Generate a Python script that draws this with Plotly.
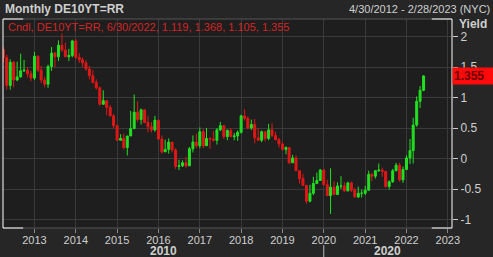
import plotly.graph_objects as go
import pandas as pd

# Monthly candles Apr 2012 .. Jun 2022
months = pd.date_range("2012-04-01", "2022-06-01", freq="MS")

opens = [
    1.79, 1.66, 1.20, 1.58, 1.29, 1.34, 1.44, 1.45, 1.39,
    1.32, 1.68, 1.45, 1.29, 1.22, 1.51, 1.73, 1.67, 1.86, 1.78, 1.67, 1.69,
    1.93, 1.66, 1.62, 1.57, 1.47, 1.36, 1.25, 1.16, 0.89, 0.95, 0.84, 0.70,
    0.54, 0.30, 0.33, 0.18, 0.37, 0.49, 0.76, 0.64, 0.80, 0.59, 0.52, 0.47,
    0.63, 0.32, 0.11, 0.15, 0.27, 0.14, -0.13, -0.12, -0.07, -0.12, 0.16, 0.27,
    0.21, 0.44, 0.21, 0.33, 0.32, 0.30, 0.47, 0.54, 0.36, 0.46, 0.36, 0.37,
    0.43, 0.70, 0.66, 0.50, 0.56, 0.34, 0.30, 0.44, 0.33, 0.47, 0.38, 0.31,
    0.24, 0.15, 0.18, -0.07, 0.01, -0.20, -0.33, -0.44, -0.70, -0.57, -0.41, -0.36,
    -0.19, -0.43, -0.61, -0.47, -0.59, -0.45, -0.45, -0.53, -0.40, -0.52, -0.63, -0.57,
    -0.57, -0.52, -0.26, -0.29, -0.20, -0.19, -0.21, -0.46, -0.38, -0.20, -0.11, -0.35,
    -0.18, 0.01, 0.13, 0.55, 0.94, 1.119,
]
highs = [
    1.84, 1.70, 1.63, 1.60, 1.59, 1.72, 1.62, 1.50, 1.44,
    1.75, 1.69, 1.52, 1.34, 1.54, 1.83, 1.75, 1.94, 2.05, 1.90, 1.80, 1.95,
    1.96, 1.73, 1.66, 1.61, 1.52, 1.45, 1.30, 1.18, 1.12, 0.96, 0.88, 0.73,
    0.55, 0.40, 0.41, 0.37, 0.78, 1.05, 0.94, 0.82, 0.80, 0.70, 0.60, 0.70,
    0.63, 0.38, 0.31, 0.33, 0.27, 0.17, -0.02, -0.03, 0.03, 0.19, 0.38, 0.41,
    0.51, 0.48, 0.50, 0.35, 0.45, 0.50, 0.60, 0.55, 0.48, 0.50, 0.42, 0.46,
    0.72, 0.81, 0.69, 0.64, 0.65, 0.50, 0.46, 0.44, 0.57, 0.58, 0.44, 0.34,
    0.27, 0.20, 0.19, 0.06, 0.05, -0.19, -0.25, -0.44, -0.43, -0.30, -0.23, -0.17,
    -0.17, -0.35, -0.16, -0.37, -0.39, -0.29, -0.39, -0.38, -0.38, -0.48, -0.46, -0.51,
    -0.45, -0.20, -0.24, -0.19, -0.08, -0.15, -0.21, -0.36, -0.17, -0.07, -0.07, -0.13,
    0.05, 0.32, 0.67, 1.02, 1.19, 1.368,
]
lows = [
    1.58, 1.13, 1.13, 1.17, 1.27, 1.33, 1.42, 1.33, 1.27,
    1.29, 1.42, 1.24, 1.17, 1.16, 1.44, 1.50, 1.60, 1.75, 1.71, 1.60, 1.66,
    1.64, 1.57, 1.50, 1.44, 1.30, 1.23, 1.13, 0.87, 0.89, 0.71, 0.69, 0.50,
    0.30, 0.30, 0.15, 0.05, 0.37, 0.49, 0.60, 0.56, 0.58, 0.43, 0.43, 0.44,
    0.32, 0.08, 0.11, 0.08, 0.10, -0.17, -0.19, -0.14, -0.15, -0.12, 0.10, 0.17,
    0.17, 0.17, 0.21, 0.16, 0.28, 0.23, 0.45, 0.32, 0.30, 0.35, 0.30, 0.29,
    0.41, 0.62, 0.48, 0.47, 0.25, 0.29, 0.27, 0.28, 0.30, 0.35, 0.30, 0.18,
    0.13, 0.07, -0.09, -0.07, -0.20, -0.41, -0.45, -0.74, -0.72, -0.60, -0.42, -0.36,
    -0.44, -0.61, -0.91, -0.60, -0.60, -0.50, -0.55, -0.54, -0.55, -0.64, -0.65, -0.64,
    -0.60, -0.53, -0.37, -0.33, -0.22, -0.30, -0.48, -0.51, -0.40, -0.21, -0.38, -0.40,
    -0.18, -0.09, -0.08, 0.52, 0.83, 1.105,
]
closes = [
    1.66, 1.20, 1.58, 1.29, 1.34, 1.44, 1.45, 1.39, 1.32,
    1.68, 1.45, 1.29, 1.22, 1.51, 1.73, 1.67, 1.86, 1.78, 1.67, 1.69, 1.93,
    1.66, 1.62, 1.57, 1.47, 1.36, 1.25, 1.16, 0.89, 0.95, 0.84, 0.70, 0.54,
    0.30, 0.33, 0.18, 0.37, 0.49, 0.76, 0.64, 0.80, 0.59, 0.52, 0.47, 0.63,
    0.32, 0.11, 0.15, 0.27, 0.14, -0.13, -0.12, -0.07, -0.12, 0.16, 0.27, 0.21,
    0.44, 0.21, 0.33, 0.32, 0.30, 0.47, 0.54, 0.36, 0.46, 0.36, 0.37, 0.43,
    0.70, 0.66, 0.50, 0.56, 0.34, 0.30, 0.44, 0.33, 0.47, 0.38, 0.31, 0.24,
    0.15, 0.18, -0.07, 0.01, -0.20, -0.33, -0.44, -0.70, -0.57, -0.41, -0.36, -0.19,
    -0.43, -0.61, -0.47, -0.59, -0.45, -0.45, -0.53, -0.40, -0.52, -0.63, -0.57, -0.57,
    -0.52, -0.26, -0.29, -0.20, -0.19, -0.21, -0.46, -0.38, -0.20, -0.11, -0.35, -0.18,
    0.01, 0.13, 0.55, 0.94, 1.12, 1.355,
]

year_ticks = [f"{y}-01-01" for y in range(2013, 2024)]
year_labels = [str(y) for y in range(2013, 2024)]
y_ticks = [-1, -0.5, 0, 0.5, 1, 1.5, 2]
y_labels = ["-1", "-0.5", "0", "0.5", "1", "1.5", "2"]
decades = [("2010", "2012-03-29", "2020-01-01"), ("2020", "2020-01-01", "2023-02-07")]

last_close = closes[-1]
legend_text = "Cndl, DE10YT=RR, 6/30/2022, 1.119, 1.368, 1.105, 1.355"

GREEN = "#22e022"
RED = "#e01818"
TXT = "#cfcfcf"
GRID = "#3a3a3a"
FONT = "Liberation Sans, Arial, sans-serif"

fig = go.Figure()
fig.add_trace(go.Candlestick(
    x=months, open=opens, high=highs, low=lows, close=closes,
    increasing=dict(line=dict(color=GREEN, width=1), fillcolor=GREEN),
    decreasing=dict(line=dict(color=RED, width=1), fillcolor=RED),
    whiskerwidth=0, showlegend=False, hoverinfo="skip",
))

annotations = [
    dict(text="<b>Monthly DE10YT=RR</b>", xref="paper", yref="paper", x=0, y=1,
         xanchor="left", yanchor="middle", yshift=10, showarrow=False,
         font=dict(family=FONT, size=12, color=TXT)),
    dict(text="4/30/2012 - 2/28/2023 (NYC)", xref="paper", yref="paper", x=1, y=1,
         xanchor="right", yanchor="middle", xshift=40, yshift=10, showarrow=False,
         font=dict(family=FONT, size=11, color=TXT)),
    dict(text=legend_text, xref="paper", yref="paper", x=0, y=1, xanchor="left",
         yanchor="middle", xshift=3, yshift=-8, showarrow=False,
         font=dict(family=FONT, size=11, color="#d42424")),
    dict(text="<b>Yield</b>", xref="paper", yref="paper", x=1, y=1, xanchor="left",
         yanchor="middle", xshift=5, yshift=-5, showarrow=False,
         font=dict(family=FONT, size=12, color=TXT)),
    dict(text="<b>%.3f</b>" % last_close, xref="paper", yref="y", x=1, y=last_close,
         xanchor="left", yanchor="middle", showarrow=False, bgcolor="#ff0a0a",
         borderpad=1, width=38, align="left",
         font=dict(family=FONT, size=12, color="#6a0000")),
]
for lab, a, b in decades:
    mid = pd.Timestamp(a) + (pd.Timestamp(b) - pd.Timestamp(a)) / 2
    annotations.append(dict(text=f"<b>{lab}</b>", xref="x", yref="paper", x=mid, y=0,
                            yanchor="middle", yshift=-23, showarrow=False,
                            font=dict(family=FONT, size=12, color=TXT)))

W = "#ffffff"
shapes = [
    dict(type="line", xref="paper", yref="paper", x0=0, x1=1, y0=1, y1=1, line=dict(color="#555555", width=1)),
    dict(type="line", xref="paper", yref="paper", x0=0, x1=1, y0=0, y1=0, line=dict(color="#555555", width=1)),
    dict(type="line", xref="paper", yref="paper", x0=0, x1=0, y0=0, y1=1, line=dict(color=W, width=1)),
    dict(type="line", xref="paper", yref="paper", x0=1, x1=1, y0=0, y1=1, line=dict(color=W, width=1)),
    dict(type="line", xref="paper", yref="paper", x0=0, x1=0.045, y0=1, y1=1, line=dict(color=W, width=1)),
    dict(type="line", xref="paper", yref="paper", x0=0, x1=0.045, y0=0, y1=0, line=dict(color=W, width=1)),
    dict(type="line", xref="paper", yref="paper", x0=0.955, x1=1, y0=1, y1=1, line=dict(color=W, width=1)),
    dict(type="line", xref="paper", yref="paper", x0=0.955, x1=1, y0=0, y1=0, line=dict(color=W, width=1)),
    dict(type="line", xref="x", yref="paper", x0="2020-01-01", x1="2020-01-01", y0=-0.082, y1=-0.14,
         line=dict(color="#bbbbbb", width=1)),
]

fig.update_layout(
    width=493, height=257,
    margin=dict(l=3, r=41, t=19, b=29),
    paper_bgcolor="#262626", plot_bgcolor="#1e1e1e",
    boxgap=0.12,
    annotations=annotations, shapes=shapes,
    xaxis=dict(
        type="date", range=["2012-03-29", "2023-02-07"],
        tickvals=year_ticks, ticktext=year_labels,
        showgrid=True, gridcolor=GRID, gridwidth=1,
        ticks="outside", ticklen=4, tickcolor="#888888", ticklabelstandoff=-2,
        tickfont=dict(family=FONT, size=11, color=TXT),
        rangeslider=dict(visible=False), showline=False, zeroline=False,
    ),
    yaxis=dict(
        side="right", range=[-1.14, 2.29],
        tickvals=y_ticks, ticktext=y_labels,
        showgrid=True, gridcolor=GRID, gridwidth=1, zeroline=False,
        ticks="outside", ticklen=5, tickcolor="#cccccc",
        tickfont=dict(family=FONT, size=12, color=TXT),
        showline=False,
    ),
)

fig.write_html("out.html")
